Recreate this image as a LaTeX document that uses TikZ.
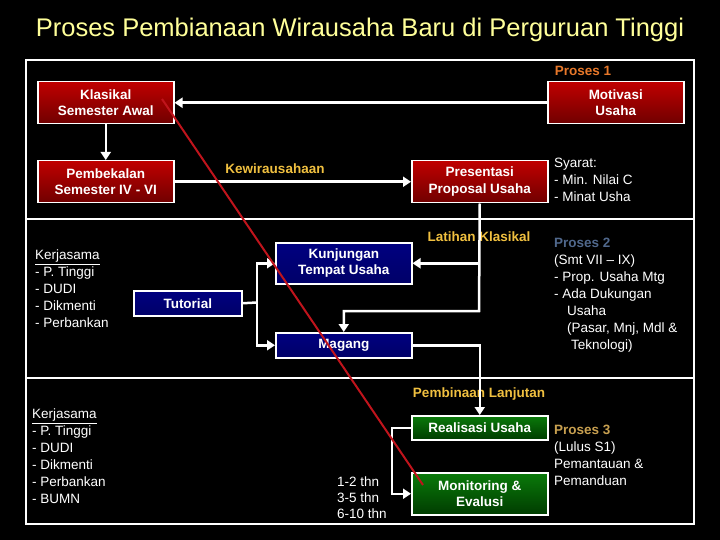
\documentclass[tikz,border=0pt]{standalone}
\usepackage{fontspec}
\setmainfont{Liberation Sans}
\usetikzlibrary{arrows.meta}
\definecolor{titlecol}{HTML}{FFFF99}
\definecolor{gold}{HTML}{F0C040}
\definecolor{pone}{HTML}{E8782A}
\definecolor{ptwo}{HTML}{50688C}
\definecolor{pthree}{HTML}{C8A050}
\definecolor{redline}{HTML}{C0141C}
\definecolor{rtop}{HTML}{C00000}
\definecolor{rmid}{HTML}{C40404}
\definecolor{rbot}{HTML}{700000}
\definecolor{btop}{HTML}{000080}
\definecolor{bmid}{HTML}{1414C0}
\definecolor{bbot}{HTML}{000068}
\definecolor{gtop}{HTML}{0A7A0A}
\definecolor{gmid}{HTML}{087008}
\definecolor{gbot}{HTML}{003C00}
\begin{document}
\begin{tikzpicture}[x=1pt,y=-1pt,
  box/.style={draw=white, line width=1.5pt, anchor=north west, inner sep=0pt,
    align=center, text=white, font=\fontsize{13.5}{16.5}\selectfont\bfseries},
  redbox/.style={box, top color=rtop, middle color=rmid, bottom color=rbot},
  bluebox/.style={box, top color=btop, middle color=bmid, bottom color=bbot},
  greenbox/.style={box, top color=gtop, middle color=gmid, bottom color=gbot},
  conn/.style={draw=white, line width=2.5pt, -{Triangle[length=8pt,width=10pt]}},
  plain/.style={draw=white, line width=2.5pt},
  lbl/.style={font=\fontsize{13.5}{16}\selectfont\bfseries, text=gold, inner sep=0pt},
  txt/.style={font=\fontsize{13.5}{17}\selectfont, text=white, inner sep=0pt,
    align=left, anchor=north west},
  frame/.style={draw=white, line width=2pt}]
\fill[black] (0,0) rectangle (720,540);
\useasboundingbox (0,0) rectangle (720,540);

% title
\node[font=\fontsize{25.5}{30}\selectfont, text=titlecol] (title) at (360,30)
  {Proses Pembianaan Wirausaha Baru di Perguruan Tinggi};

% frame and dividers
\draw[frame] (26,60) rectangle (694,524);
\draw[frame] (26,219) -- (694,219);
\draw[frame] (26,378) -- (694,378);

% boxes
\node[redbox, minimum width=136, minimum height=42] (klas) at (37,81) {Klasikal\\Semester Awal};
\node[redbox, minimum width=136, minimum height=42] (motiv) at (547,81) {Motivasi\\Usaha};
\node[redbox, minimum width=136, minimum height=42] (pemb) at (37,160) {Pembekalan\\Semester IV - VI};
\node[redbox, minimum width=136, minimum height=42] (pres) at (411,160) {Presentasi\\Proposal Usaha};
\node[bluebox, minimum width=136, minimum height=41] (kunj) at (275,242) {Kunjungan\\Tempat Usaha};
\node[bluebox, minimum width=136, minimum height=25] (magang) at (275,332) {Magang};
\node[bluebox, minimum width=108, minimum height=25] (tutor) at (133,290) {Tutorial};
\node[greenbox, minimum width=136, minimum height=24] (real) at (411,415) {Realisasi Usaha};
\node[greenbox, minimum width=136, minimum height=42] (monit) at (411,472) {Monitoring \&\\Evalusi};

% labels
\node[lbl, text=pone] (p1) at (583,71) {Proses 1};
\node[lbl] (kew) at (275,169) {Kewirausahaan};
\node[lbl] (lat) at (479,237) {Latihan Klasikal};
\node[lbl] (pl) at (479,394) {Pembinaan Lanjutan};

% texts
\node[txt] (syarat) at (554,158) {Syarat:\\- Min. Nilai C\\- Minat Usha};
\node[txt] (ker1) at (35,250) {\underline{Kerjasama}\\- P. Tinggi\\- DUDI\\- Dikmenti\\- Perbankan};
\node[txt] (pr2) at (554,238) {{\bfseries\color{ptwo}Proses 2}\\(Smt VII – IX)\\- Prop. Usaha Mtg\\- Ada Dukungan\\\hspace*{13pt}Usaha\\\hspace*{13pt}(Pasar, Mnj, Mdl \&\\\hspace*{17pt}Teknologi)};
\node[txt] (ker2) at (32,409) {\underline{Kerjasama}\\- P. Tinggi\\- DUDI\\- Dikmenti\\- Perbankan\\- BUMN};
\node[txt, font=\fontsize{13.5}{16}\selectfont] (thn) at (337,477) {1-2 thn\\3-5 thn\\6-10 thn};
\node[txt] (pr3) at (554,425) {{\bfseries\color{pthree}Proses 3}\\(Lulus S1)\\Pemantauan \&\\Pemanduan};

% connectors
\draw[conn] (motiv.west) -- (klas.east);
\draw[conn] (klas.south) -- (pemb.north);
\draw[conn] (pemb.east) -- (pres.west);
\coordinate (c1) at (479,311);
\draw[conn] (pres.south) -- (c1) -| (magang.north);
\draw[conn] (pres.south |- kunj.east) -- (kunj.east);
\coordinate (br) at (257,302.5);
\draw[plain] (tutor.east) -- (br);
\draw[conn] (br) |- (kunj.west);
\draw[conn] (br) |- (magang.west);
\draw[conn] (magang.east) -| (real.north);
\draw[conn] (real.west) -- ++(-19,0) |- (monit.west);

% red diagonal
\coordinate (rs) at (162,99);
\coordinate (re) at (423,485);
\draw[redline, line width=2pt] (rs) -- (re);
\end{tikzpicture}
\end{document}
